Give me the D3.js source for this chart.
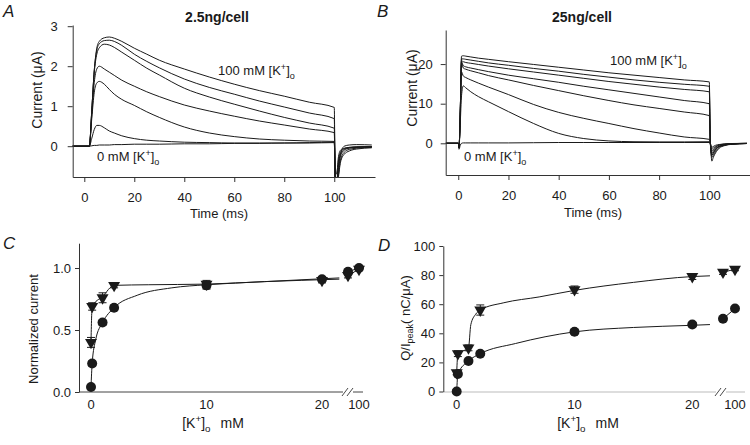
<!DOCTYPE html>
<html><head><meta charset="utf-8">
<script src="https://cdn.jsdelivr.net/npm/d3@7"></script>
<style>
body{margin:0;background:#fff}
svg{display:block}
text{font-family:"Liberation Sans",Arial,sans-serif;fill:#1a1a1a}
</style>
</head><body>
<svg id="chart" width="750" height="445"></svg>
<script>
// ---------------- DATA ----------------
// Panel A (2.5 ng/cell) — current traces (µA) vs time (ms)
const timeA = [-5, 2, 3, 4, 5, 6, 8, 10, 12, 15, 20, 25, 30, 40, 50, 60, 70, 80, 90, 100, 100.4, 101, 101.6, 102.5, 104, 106, 109, 115];
const traceA1 = [0, 0, 0.9, 1.9, 2.45, 2.62, 2.71, 2.73, 2.7, 2.62, 2.45, 2.3, 2.15, 1.93, 1.73, 1.55, 1.39, 1.25, 1.1, 0.97, -0.9, -1.0, -0.7, -0.25, -0.1, -0.05, -0.03, -0.02];
const traceA2 = [0, 0, 0.9, 1.9, 2.4, 2.56, 2.64, 2.65, 2.62, 2.52, 2.3, 2.12, 1.96, 1.68, 1.47, 1.3, 1.13, 0.98, 0.83, 0.69, -0.9, -1.0, -0.75, -0.35, -0.15, -0.08, -0.05, -0.03];
const traceA3 = [0, 0, 0.9, 1.85, 2.3, 2.46, 2.55, 2.53, 2.47, 2.35, 2.15, 1.95, 1.78, 1.45, 1.23, 1.05, 0.88, 0.72, 0.58, 0.45, -0.9, -1.0, -0.8, -0.4, -0.2, -0.12, -0.07, -0.04];
const traceA4 = [0, 0, 0.8, 1.6, 1.93, 2.0, 1.93, 1.85, 1.77, 1.65, 1.5, 1.36, 1.24, 1.03, 0.88, 0.75, 0.63, 0.53, 0.43, 0.34, -0.85, -1.0, -0.6, -0.2, 0.0, 0.03, 0.04, 0.03];
const traceA5 = [0, 0, 0.7, 1.35, 1.58, 1.62, 1.55, 1.42, 1.3, 1.17, 1.02, 0.86, 0.72, 0.48, 0.33, 0.24, 0.18, 0.15, 0.13, 0.12, -0.85, -0.95, -0.5, -0.2, -0.08, -0.04, -0.02, -0.01];
const traceA6 = [0, 0, 0.2, 0.42, 0.52, 0.52, 0.46, 0.38, 0.33, 0.26, 0.19, 0.15, 0.13, 0.1, 0.09, 0.08, 0.08, 0.08, 0.09, 0.1, -0.8, -0.9, -0.4, -0.15, -0.06, -0.03, -0.02, -0.01];
const traceA0 = [0, 0, 0.01, 0.02, 0.02, 0.03, 0.03, 0.03, 0.04, 0.04, 0.05, 0.05, 0.05, 0.06, 0.06, 0.07, 0.07, 0.08, 0.08, 0.09, -0.5, -0.7, -0.3, -0.1, -0.05, -0.03, -0.02, -0.01];

// Panel B (25 ng/cell)
const timeB = [-5, 0, 0.3, 0.8, 1.3, 2, 3, 5, 8, 12, 20, 30, 40, 50, 60, 70, 80, 90, 100, 100.4, 101, 101.6, 102.5, 104, 106, 109, 115];
const traceB1 = [0, 0, -1, 8, 22.0, 22.1, 22.0, 21.8, 21.5, 21.2, 20.6, 19.9, 19.2, 18.5, 17.8, 17.2, 16.6, 16.0, 15.5, 0, -1.5, -1.2, -0.8, -0.4, -0.2, -0.1, 0];
const traceB2 = [0, 0, -1, 8, 21.3, 21.3, 21.2, 21.0, 20.7, 20.3, 19.7, 18.9, 18.2, 17.4, 16.7, 16.0, 15.4, 14.9, 14.4, 0, -2.0, -1.6, -1.0, -0.5, -0.25, -0.1, 0];
const traceB3 = [0, 0, -1, 8, 20.8, 20.6, 20.4, 20.2, 19.9, 19.5, 18.8, 18.0, 17.2, 16.4, 15.6, 14.9, 14.2, 13.6, 13.0, 0, -2.5, -2.0, -1.3, -0.7, -0.35, -0.15, -0.05];
const traceB4 = [0, 0, -1, 8, 20.6, 19.6, 19.3, 19.0, 18.6, 18.1, 17.2, 16.3, 15.4, 14.4, 13.5, 12.6, 11.7, 10.8, 10.0, 0, -3.0, -2.5, -1.6, -0.8, -0.4, -0.2, -0.05];
const traceB5 = [0, 0, -1, 8, 20.3, 19.0, 18.7, 18.3, 17.8, 17.1, 16.0, 14.6, 13.3, 12.0, 10.8, 9.7, 8.8, 7.9, 7.0, 0, -3.5, -3.0, -2.0, -1.0, -0.5, -0.2, -0.05];
const traceB6 = [0, 0, -1, 7, 18.0, 17.0, 16.6, 16.0, 15.2, 14.2, 12.3, 9.8, 7.8, 6.3, 5.0, 3.7, 2.6, 1.6, 1.0, 0, -4.5, -3.5, -2.4, -1.2, -0.6, -0.25, -0.05];
const traceB7 = [0, 0, -1, 5, 12.0, 14.5, 14.0, 13.0, 11.8, 10.5, 8.0, 5.0, 2.5, 1.2, 0.6, 0.4, 0.35, 0.35, 0.4, 0, -3.0, -2.4, -1.5, -0.8, -0.4, -0.15, -0.05];
const traceB0 = [0, 0, -1.5, -0.5, 0, 0.1, 0.1, 0.1, 0.1, 0.1, 0.1, 0.15, 0.2, 0.2, 0.2, 0.2, 0.2, 0.2, 0.2, 0, -1.0, -0.8, -0.5, -0.3, -0.15, -0.05, 0];

// Tick labels
const ticksTime = [0, 20, 40, 60, 80, 100];
const ticksA = [0, 1, 2, 3];
const ticksB = [0, 10, 20];
const ticksC = [0.0, 0.5, 1.0];
const ticksD = [0, 20, 40, 60, 80, 100];
const ticksConcLeft = [0, 10, 20];
const ticksConcRight = [100];

// Panels C & D — [K+]o (mM)
const conc = [0, 0.1, 1, 2, 10, 20, 50, 100];
const normCircle = [0.04, 0.23, 0.56, 0.68, 0.86, 0.91, 0.97, 1.0];
const normTriangle = [0.40, 0.69, 0.76, 0.86, 0.87, 0.90, 0.94, 0.99];
const normCircleErr = [0.01, 0.02, 0.02, 0.02, 0.03, 0.02, 0.02, 0];
const normTriangleErr = [0.04, 0.03, 0.04, 0.02, 0.03, 0.02, 0.02, 0];
const qCircle = [0, 12, 21, 26, 41, 46, 50, 57];
const qTriangle = [13, 26, 30, 56, 70, 79, 82, 84];
const qCircleErr = [1, 1, 1, 1, 1.5, 1.5, 1.5, 1];
const qTriangleErr = [1.5, 2, 2, 3.5, 2.5, 2, 1.5, 1];

// Fitted curves
const fitNormCircle = [[0, 0.04], [0.1, 0.23], [0.4, 0.42], [1, 0.56], [2, 0.68], [4, 0.78], [7, 0.84], [10, 0.865], [15, 0.89], [21.5, 0.92]];
const fitNormTriangle = [[0, 0.40], [0.1, 0.69], [1, 0.77], [2, 0.86], [5, 0.865], [10, 0.87], [15, 0.89], [21.5, 0.91]];
const fitQCircle = [[0, 0], [0.1, 12], [1, 21], [2, 26], [5, 33], [10, 41], [15, 44], [20, 45.5], [21.5, 46]];
const fitQTriangle = [[0, 13], [0.1, 26], [1, 30], [1.2, 46], [1.6, 53], [2, 56], [4, 61], [7, 65], [10, 69.5], [15, 75], [20, 79], [21.5, 79.5]];
const fitRightCircleC = [[50, 0.97], [100, 1.0]];
const fitRightTriangleC = [[50, 0.94], [100, 0.99]];
const fitRightCircleD = [[50, 50], [100, 57]];
const fitRightTriangleD = [[50, 82], [100, 84]];

// ---------------- DRAW ----------------
const svg = d3.select("#chart");
const ink = "#1a1a1a";

function styleAxis(g, fs) {
  g.selectAll("path.domain").attr("stroke", "#333").attr("stroke-width", 1);
  g.selectAll(".tick line").attr("stroke", "#333");
  g.selectAll(".tick text").attr("font-size", fs).attr("fill", ink)
    .attr("font-family", '"Liberation Sans",Arial,sans-serif');
}
function kLabel(sel, x, y, fs, anchor, prefix, suffix, gap) {
  const t = sel.append("text").attr("x", x).attr("y", y).attr("font-size", fs).attr("text-anchor", anchor || "start");
  t.append("tspan").text((prefix || "") + "[K");
  t.append("tspan").attr("dy", -fs * 0.4).attr("font-size", fs * 0.7).text("+");
  t.append("tspan").attr("dy", fs * 0.4).text("]");
  t.append("tspan").attr("dy", fs * 0.3).attr("font-size", fs * 0.7).text("o");
  if (suffix) t.append("tspan").attr("dy", -fs * 0.3).attr("dx", gap || 0).text(suffix);
  return t;
}

// ---- Panel A ----
const xA = d3.scaleLinear().domain([-4.64, 116.3]).range([72.7, 375]);
const yA = d3.scaleLinear().domain([-0.77, 3.03]).range([177, 25]);
svg.append("clipPath").attr("id", "clipA").append("rect").attr("x", 72.7).attr("y", 20).attr("width", 302.3).attr("height", 157);
const lineA = d3.line().x((d, i) => xA(timeA[i])).y(d => yA(d)).curve(d3.curveMonotoneX);
const gA = svg.append("g").attr("clip-path", "url(#clipA)");
[traceA0, traceA6, traceA5, traceA4, traceA3, traceA2, traceA1].forEach(tr => {
  gA.append("path").attr("d", lineA(tr)).attr("fill", "none").attr("stroke", ink).attr("stroke-width", 1);
});
styleAxis(svg.append("g").attr("transform", "translate(0,177)")
  .call(d3.axisBottom(xA).tickValues(ticksTime).tickSize(5).tickPadding(11).tickSizeOuter(0)), 13);
styleAxis(svg.append("g").attr("transform", "translate(72.7,0)")
  .call(d3.axisLeft(yA).tickValues(ticksA).tickFormat(d3.format("d")).tickSize(5).tickPadding(10).tickSizeOuter(0)), 13);

// ---- Panel B ----
const xB = d3.scaleLinear().domain([-5.0, 116.2]).range([445.7, 750]);
const yB = d3.scaleLinear().domain([-8.0, 28.6]).range([175, 30]);
svg.append("clipPath").attr("id", "clipB").append("rect").attr("x", 445.7).attr("y", 20).attr("width", 304.3).attr("height", 155);
const lineB = d3.line().x((d, i) => xB(timeB[i])).y(d => yB(d)).curve(d3.curveMonotoneX);
const gB = svg.append("g").attr("clip-path", "url(#clipB)");
[traceB0, traceB7, traceB6, traceB5, traceB4, traceB3, traceB2, traceB1].forEach(tr => {
  gB.append("path").attr("d", lineB(tr)).attr("fill", "none").attr("stroke", ink).attr("stroke-width", 1);
});
styleAxis(svg.append("g").attr("transform", "translate(0,175)")
  .call(d3.axisBottom(xB).tickValues(ticksTime).tickSize(5).tickPadding(11).tickSizeOuter(0)), 13);
styleAxis(svg.append("g").attr("transform", "translate(445.7,0)")
  .call(d3.axisLeft(yB).tickValues(ticksB).tickFormat(d3.format("d")).tickSize(5).tickPadding(8).tickSizeOuter(0)), 13);

// ---- Panels C & D helpers ----
function brokenX(left, right) { return c => c <= 30 ? left(c) : right(c); }
const triSym = d3.symbol().type(d3.symbolTriangle).size(62);
const circSym = d3.symbol().type(d3.symbolCircle).size(78);

function scatterPanel(opt) {
  const { xs, ys, yAxisX, xAxisY, breakX, xEnd, circle, triangle, circleErr, triangleErr,
          fitC, fitT, fitRC, fitRT, yTicks, yFmt, xLeft, xRight, xAxisColor } = opt;
  const g = svg.append("g");
  g.append("line").attr("x1", yAxisX).attr("x2", breakX).attr("y1", xAxisY).attr("y2", xAxisY).attr("stroke", xAxisColor).attr("stroke-width", 1);
  g.append("line").attr("x1", breakX + 10).attr("x2", xEnd).attr("y1", xAxisY).attr("y2", xAxisY).attr("stroke", xAxisColor).attr("stroke-width", 1);
  [0, 5].forEach(o => g.append("line").attr("x1", breakX + o - 1).attr("x2", breakX + o + 5).attr("y1", xAxisY + 4).attr("y2", xAxisY - 4).attr("stroke", "#333").attr("stroke-width", 0.9));
  styleAxis(g.append("g").attr("transform", `translate(${yAxisX},0)`)
    .call(d3.axisLeft(ys).tickValues(yTicks).tickFormat(yFmt).tickSize(4).tickPadding(4).tickSizeOuter(0)), 13);
  ticksConcLeft.forEach(v => g.append("text").attr("x", xLeft(v)).attr("y", xAxisY + 17).attr("text-anchor", "middle").attr("font-size", 13).text(v));
  ticksConcRight.forEach(v => g.append("text").attr("x", xRight(v)).attr("y", xAxisY + 17).attr("text-anchor", "middle").attr("font-size", 13).text(v));
  const ln = d3.line().x(d => xs(d[0])).y(d => ys(d[1])).curve(d3.curveMonotoneX);
  [fitC, fitT, fitRC, fitRT].forEach(f => g.append("path").attr("d", ln(f)).attr("fill", "none").attr("stroke", ink).attr("stroke-width", 1));
  function err(vals, errs) {
    vals.forEach((v, i) => {
      if (!errs[i]) return;
      const x = xs(conc[i]), y1 = ys(v - errs[i]), y2 = ys(v + errs[i]);
      g.append("line").attr("x1", x).attr("x2", x).attr("y1", y1).attr("y2", y2).attr("stroke", ink);
      [y1, y2].forEach(y => g.append("line").attr("x1", x - 4).attr("x2", x + 4).attr("y1", y).attr("y2", y).attr("stroke", ink));
    });
  }
  err(triangle, triangleErr); err(circle, circleErr);
  circle.forEach((v, i) => g.append("path").attr("d", circSym()).attr("transform", `translate(${xs(conc[i])},${ys(v)})`).attr("fill", ink));
  triangle.forEach((v, i) => g.append("path").attr("d", triSym()).attr("transform", `translate(${xs(conc[i])},${ys(v)}) rotate(180)`).attr("fill", ink));
}

// ---- Panel C ----
const xCL = d3.scaleLinear().domain([0, 20]).range([91, 322]);
const xCR = d3.scaleLinear().domain([50, 100]).range([348, 359]);
const xC = brokenX(xCL, xCR);
const yC = d3.scaleLinear().domain([0, 1.2]).range([392, 243.2]);
scatterPanel({ xs: xC, ys: yC, yAxisX: 79, xAxisY: 392, breakX: 343, xEnd: 363,
  circle: normCircle, triangle: normTriangle, circleErr: normCircleErr, triangleErr: normTriangleErr,
  fitC: fitNormCircle, fitT: fitNormTriangle, fitRC: fitRightCircleC, fitRT: fitRightTriangleC,
  yTicks: ticksC, yFmt: d3.format(".1f"), xLeft: xCL, xRight: xCR, xAxisColor: "#444" });

// ---- Panel D ----
const xDL = d3.scaleLinear().domain([0, 20]).range([456.7, 692.3]);
const xDR = d3.scaleLinear().domain([50, 100]).range([723, 735]);
const xD = brokenX(xDL, xDR);
const yD = d3.scaleLinear().domain([0, 100]).range([391.5, 246]);
scatterPanel({ xs: xD, ys: yD, yAxisX: 443.3, xAxisY: 392, breakX: 716, xEnd: 745,
  circle: qCircle, triangle: qTriangle, circleErr: qCircleErr, triangleErr: qTriangleErr,
  fitC: fitQCircle, fitT: fitQTriangle, fitRC: fitRightCircleD, fitRT: fitRightTriangleD,
  yTicks: ticksD, yFmt: d3.format("d"), xLeft: xDL, xRight: xDR, xAxisColor: "#bbb" });

// ---------------- TEXT ----------------
const letters = [["A", 3, 17], ["B", 377, 17], ["C", 3, 249], ["D", 378, 251]];
letters.forEach(([t, x, y]) => svg.append("text").attr("x", x).attr("y", y).attr("font-size", 17).attr("font-style", "italic").text(t));
svg.append("text").attr("x", 217).attr("y", 22).attr("text-anchor", "middle").attr("font-size", 14).attr("font-weight", "bold").text("2.5ng/cell");
svg.append("text").attr("x", 582).attr("y", 22).attr("text-anchor", "middle").attr("font-size", 14).attr("font-weight", "bold").text("25ng/cell");

function yLabel(x, y, fs, text) {
  return svg.append("text").attr("transform", `translate(${x},${y}) rotate(-90)`).attr("text-anchor", "middle").attr("font-size", fs).text(text);
}
yLabel(42, 90, 14, "Current (\u03BCA)");
yLabel(417, 88, 14, "Current (\u03BCA)");
yLabel(38, 329, 13, "Normalized current");
const qt = svg.append("text").attr("transform", "translate(410,318) rotate(-90)").attr("text-anchor", "middle").attr("font-size", 13);
qt.append("tspan").text("Q/I");
qt.append("tspan").attr("dy", 3).attr("font-size", 9).text("peak");
qt.append("tspan").attr("dy", -3).text("( nC/\u03BCA)");

svg.append("text").attr("x", 219).attr("y", 218).attr("text-anchor", "middle").attr("font-size", 13).text("Time (ms)");
svg.append("text").attr("x", 593).attr("y", 217).attr("text-anchor", "middle").attr("font-size", 13).text("Time (ms)");
kLabel(svg, 213, 428, 14, "middle", "", "mM", 10);
kLabel(svg, 588, 428, 14, "middle", "", "mM", 10);

kLabel(svg, 218, 75, 13, "start", "100 mM ", "");
kLabel(svg, 97, 161, 13, "start", "0 mM ", "");
kLabel(svg, 610, 65, 13, "start", "100 mM ", "");
kLabel(svg, 464, 161, 13, "start", "0 mM ", "");
</script>
</body></html>
